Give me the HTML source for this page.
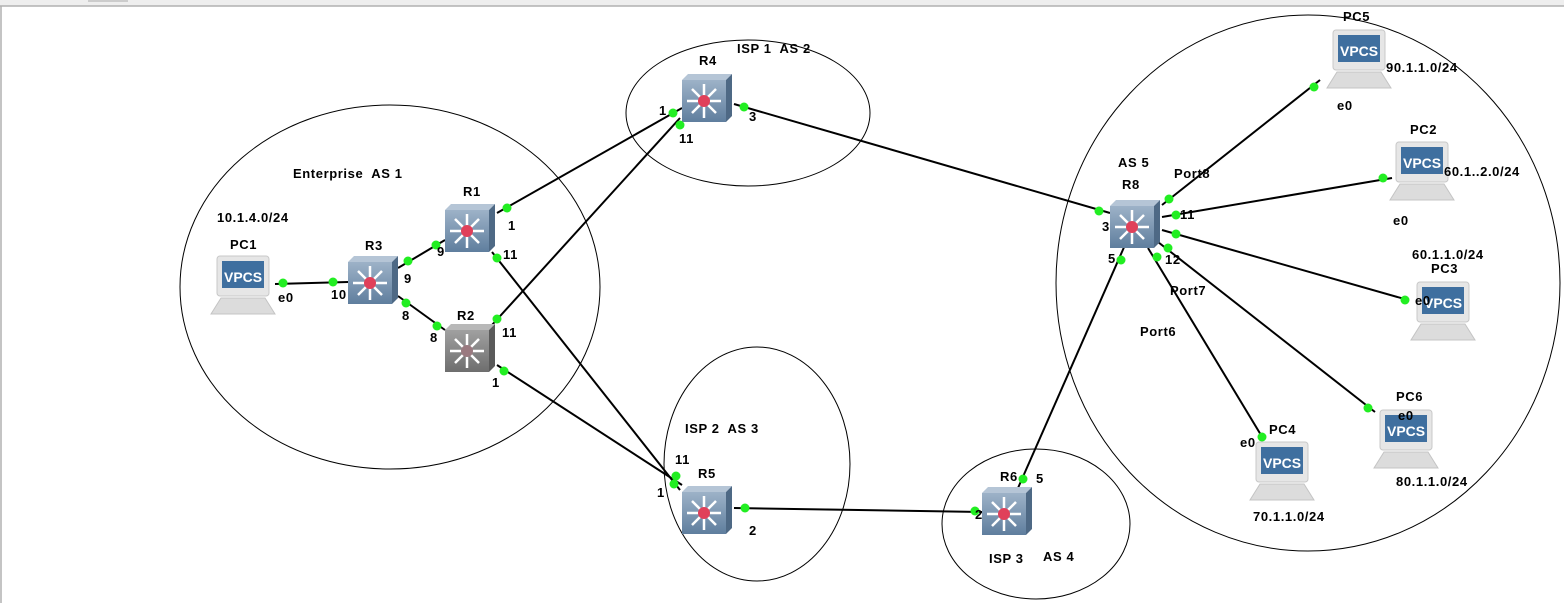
<!DOCTYPE html>
<html><head><meta charset="utf-8"><style>
html,body{margin:0;padding:0;background:#fff;}
svg{display:block;font-family:"Liberation Sans",Arial,sans-serif;font-weight:bold;}
</style></head><body>
<svg width="1564" height="603" viewBox="0 0 1564 603" xmlns="http://www.w3.org/2000/svg">
<defs>
<linearGradient id="rf" x1="0" y1="0" x2="0" y2="1"><stop offset="0" stop-color="#9db2c8"/><stop offset="1" stop-color="#5f7e9e"/></linearGradient>
<linearGradient id="gf" x1="0" y1="0" x2="0" y2="1"><stop offset="0" stop-color="#a0a0a0"/><stop offset="1" stop-color="#6e6e6e"/></linearGradient>
<g id="arr" stroke="#fff" stroke-width="2.5" fill="#fff">
<line x1="22" y1="27" x2="22" y2="10"/><line x1="22" y1="27" x2="22" y2="44"/>
<line x1="22" y1="27" x2="5" y2="27"/><line x1="22" y1="27" x2="39" y2="27"/>
<line x1="22" y1="27" x2="10" y2="15"/><line x1="22" y1="27" x2="34" y2="15"/>
<line x1="22" y1="27" x2="10" y2="39"/><line x1="22" y1="27" x2="34" y2="39"/>
</g>
<g id="rt">
<polygon points="0,6 6,0 50,0 44,6" fill="#b5c5d6"/>
<polygon points="44,6 50,0 50,42 44,48" fill="#4e6985"/>
<rect x="0" y="6" width="44" height="42" fill="url(#rf)"/>
<use href="#arr"/>
<circle cx="22" cy="27" r="6" fill="#e0405a"/>
</g>
<g id="rg">
<polygon points="0,6 6,0 50,0 44,6" fill="#b8b8b8"/>
<polygon points="44,6 50,0 50,42 44,48" fill="#5a5a5a"/>
<rect x="0" y="6" width="44" height="42" fill="url(#gf)"/>
<use href="#arr"/>
<circle cx="22" cy="27" r="6" fill="#9a7a80"/>
</g>
<g id="pc">
<rect x="6" y="0" width="52" height="40" rx="3" fill="#e6e6e6" stroke="#c8c8c8"/>
<rect x="11" y="5" width="42" height="27" fill="#3f6f9f"/>
<polygon points="10,42 54,42 64,58 0,58" fill="#dcdcdc" stroke="#c4c4c4"/>
</g>
</defs>
<rect x="0" y="0" width="1564" height="6" fill="#eeeeee"/>
<rect x="88" y="0" width="40" height="2" fill="#ccc"/>
<line x1="0" y1="6" x2="1564" y2="6" stroke="#b0b0b0" stroke-width="1.5"/>
<line x1="1" y1="6" x2="1" y2="603" stroke="#b0b0b0" stroke-width="1.5"/>

<g fill="none" stroke="#000" stroke-width="1">
<ellipse cx="390" cy="287" rx="210" ry="182"/>
<ellipse cx="748" cy="113" rx="122" ry="73"/>
<ellipse cx="757" cy="464" rx="93" ry="117"/>
<ellipse cx="1036" cy="524" rx="94" ry="75"/>
<ellipse cx="1308" cy="283" rx="252" ry="268"/>
</g>

<g stroke="#000" stroke-width="2">
<line x1="275" y1="284" x2="348" y2="282"/>
<line x1="398" y1="268" x2="445" y2="240"/>
<line x1="398" y1="296" x2="445" y2="330"/>
<line x1="497" y1="213" x2="682" y2="108"/>
<line x1="492" y1="252" x2="680" y2="490"/>
<line x1="492" y1="325" x2="680" y2="118"/>
<line x1="497" y1="365" x2="682" y2="485"/>
<line x1="734" y1="104" x2="1110" y2="213"/>
<line x1="734" y1="508" x2="982" y2="512"/>
<line x1="1018" y1="488" x2="1125" y2="245"/>
<line x1="1162" y1="205" x2="1320" y2="80"/>
<line x1="1162" y1="217" x2="1392" y2="178"/>
<line x1="1162" y1="230" x2="1408" y2="300"/>
<line x1="1148" y1="248" x2="1264" y2="440"/>
<line x1="1158" y1="242" x2="1375" y2="412"/>
</g>

<use href="#pc" x="211" y="256"/>
<use href="#pc" x="1327" y="30"/>
<use href="#pc" x="1390" y="142"/>
<use href="#pc" x="1411" y="282"/>
<use href="#pc" x="1250" y="442"/>
<use href="#pc" x="1374" y="410"/>
<g fill="#fff" font-size="14" font-family="Liberation Sans,Arial,sans-serif">
<text x="224" y="282">VPCS</text>
<text x="1340" y="56">VPCS</text>
<text x="1403" y="168">VPCS</text>
<text x="1424" y="308">VPCS</text>
<text x="1263" y="468">VPCS</text>
<text x="1387" y="436">VPCS</text>
</g>

<use href="#rt" x="348" y="256"/>
<use href="#rt" x="445" y="204"/>
<use href="#rg" x="445" y="324"/>
<use href="#rt" x="682" y="74"/>
<use href="#rt" x="682" y="486"/>
<use href="#rt" x="982" y="487"/>
<use href="#rt" x="1110" y="200"/>

<g fill="#22ee22">
<circle cx="283" cy="283" r="4.5"/><circle cx="333" cy="282" r="4.5"/>
<circle cx="408" cy="261" r="4.5"/><circle cx="436" cy="245" r="4.5"/>
<circle cx="406" cy="303" r="4.5"/><circle cx="437" cy="326" r="4.5"/>
<circle cx="507" cy="208" r="4.5"/><circle cx="497" cy="258" r="4.5"/>
<circle cx="497" cy="319" r="4.5"/><circle cx="504" cy="371" r="4.5"/>
<circle cx="673" cy="113" r="4.5"/><circle cx="680" cy="125" r="4.5"/>
<circle cx="744" cy="107" r="4.5"/>
<circle cx="676" cy="476" r="4.5"/><circle cx="674" cy="484" r="4.5"/>
<circle cx="745" cy="508" r="4.5"/>
<circle cx="975" cy="511" r="4.5"/><circle cx="1023" cy="479" r="4.5"/>
<circle cx="1099" cy="211" r="4.5"/><circle cx="1121" cy="260" r="4.5"/>
<circle cx="1169" cy="199" r="4.5"/><circle cx="1176" cy="215" r="4.5"/>
<circle cx="1176" cy="234" r="4.5"/><circle cx="1168" cy="248" r="4.5"/>
<circle cx="1157" cy="257" r="4.5"/>
<circle cx="1314" cy="87" r="4.5"/><circle cx="1383" cy="178" r="4.5"/>
<circle cx="1405" cy="300" r="4.5"/><circle cx="1262" cy="437" r="4.5"/>
<circle cx="1368" cy="408" r="4.5"/>
</g>

<g fill="#000" font-size="13" letter-spacing="0.6">
<text x="293" y="178" xml:space="preserve">Enterprise  AS 1</text>
<text x="217" y="222">10.1.4.0/24</text>
<text x="230" y="249">PC1</text>
<text x="278" y="302">e0</text>
<text x="331" y="299">10</text>
<text x="365" y="250">R3</text>
<text x="404" y="283">9</text>
<text x="437" y="256">9</text>
<text x="402" y="320">8</text>
<text x="430" y="342">8</text>
<text x="463" y="196">R1</text>
<text x="508" y="230">1</text>
<text x="503" y="259">11</text>
<text x="457" y="320">R2</text>
<text x="502" y="337">11</text>
<text x="492" y="387">1</text>
<text x="699" y="65">R4</text>
<text x="737" y="53" xml:space="preserve">ISP 1  AS 2</text>
<text x="659" y="115">1</text>
<text x="679" y="143">11</text>
<text x="749" y="121">3</text>
<text x="685" y="433" xml:space="preserve">ISP 2  AS 3</text>
<text x="675" y="464">11</text>
<text x="698" y="478">R5</text>
<text x="657" y="497">1</text>
<text x="749" y="535">2</text>
<text x="1000" y="481">R6</text>
<text x="1036" y="483">5</text>
<text x="975" y="519">2</text>
<text x="989" y="563">ISP 3</text>
<text x="1043" y="561">AS 4</text>
<text x="1118" y="167">AS 5</text>
<text x="1122" y="189">R8</text>
<text x="1174" y="178">Port8</text>
<text x="1102" y="231">3</text>
<text x="1180" y="219">11</text>
<text x="1108" y="263">5</text>
<text x="1165" y="264">12</text>
<text x="1170" y="295">Port7</text>
<text x="1140" y="336">Port6</text>
<text x="1343" y="21">PC5</text>
<text x="1386" y="72">90.1.1.0/24</text>
<text x="1337" y="110">e0</text>
<text x="1410" y="134">PC2</text>
<text x="1444" y="176">60.1..2.0/24</text>
<text x="1393" y="225">e0</text>
<text x="1412" y="259">60.1.1.0/24</text>
<text x="1431" y="273">PC3</text>
<text x="1415" y="305">e0</text>
<text x="1396" y="401">PC6</text>
<text x="1398" y="420">e0</text>
<text x="1269" y="434">PC4</text>
<text x="1240" y="447">e0</text>
<text x="1396" y="486">80.1.1.0/24</text>
<text x="1253" y="521">70.1.1.0/24</text>
</g>
</svg>
</body></html>
